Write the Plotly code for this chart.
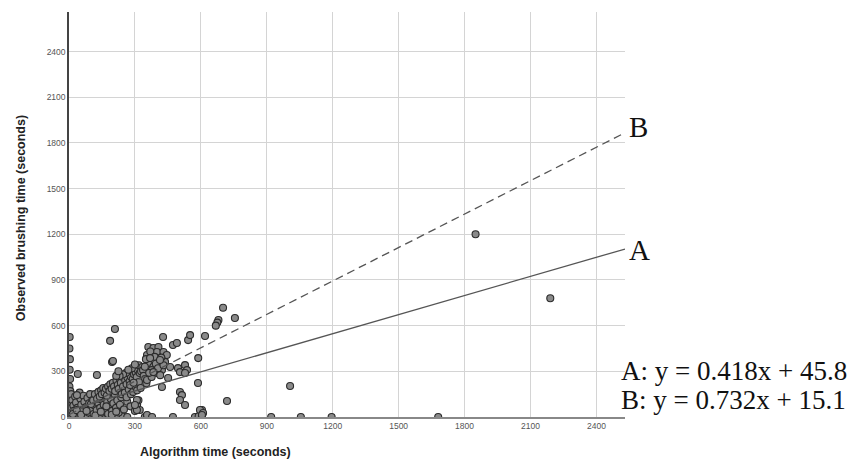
import plotly.graph_objects as go

# ---- data ----
algo_time = [
    3, 2, 4, 3, 5, 2, 6, 3, 4, 2, 5, 3,
    15, 30, 45, 60, 75, 90, 105, 125, 140, 160, 180, 200, 220, 245, 265, 345, 355, 365, 473, 573, 590, 605, 920, 1055, 1195, 1680,
    10, 15, 20, 22, 28, 32, 38, 42, 48, 52, 56, 62, 66, 70, 74, 78, 84, 88, 92, 96, 102, 106, 112, 116, 122, 126, 132, 136,
    142, 148, 152, 158, 164, 168, 174, 178, 184, 190, 196, 202, 208, 214, 220, 226, 232, 238,
    18, 35, 55, 80, 100, 120, 145, 170, 195, 215, 250, 265, 280, 300, 310, 316, 322, 40, 127, 196, 36,
    110, 118, 128, 134, 140, 146, 150, 156, 162, 168, 172, 178, 184, 188, 194, 200, 205, 210, 216, 222, 226, 232, 236, 242,
    246, 252, 256, 262, 266, 272, 276, 282, 286, 290, 296, 300, 304, 308, 312, 318, 322, 328, 334, 337, 340, 346, 352,
    240, 254, 262, 272, 282, 292, 302, 310, 318, 326, 278, 294, 260, 246, 230, 286, 300, 270, 215, 225,
    361, 384, 407, 355, 400, 430, 445, 361, 384, 414, 437, 376, 400, 423, 355, 376, 370, 390, 420, 350, 395, 405, 430, 365,
    345, 415, 369, 414, 384,
    428, 473, 491, 542, 551, 619, 588, 587, 496, 528, 537, 505, 528, 460, 451, 423, 505, 514, 505, 528, 605, 596, 610, 605,
    719, 1006, 701, 680, 675, 668, 755, 209, 187, 200, 309, 309, 300, 355, 378,
    1850, 2190,
]
observed_time = [
    525, 450, 380, 310, 250, 200, 170, 130, 90, 55, 25, 0,
    0, 3, 0, 5, 0, 2, 0, 4, 0, 2, 0, 5, 0, 3, 0, 0, 10, 0, 0, 0, 5, 0, 0, 0, 0, 0,
    150, 110, 75, 40, 135, 95, 60, 20, 160, 120, 80, 45, 140, 100, 15, 65, 125, 30, 90, 150, 55, 110, 20, 75, 130, 45, 95, 10,
    60, 115, 30, 80, 140, 50, 100, 20, 70, 120, 40, 90, 150, 60, 110, 30, 80, 130,
    20, 45, 15, 40, 85, 10, 35, 70, 15, 35, 50, 100, 70, 40, 80, 110, 46, 282, 276, 361, 144,
    110, 150, 120, 165, 135, 175, 150, 190, 160, 185, 140, 200, 170, 215, 185, 225, 200, 170, 240, 210, 185, 250, 225, 265,
    200, 275, 240, 215, 260, 285, 235, 265, 300, 250, 280, 320, 290, 262, 310, 340, 289, 300, 328, 308, 270, 250, 222,
    150, 160, 130, 180, 150, 165, 200, 175, 230, 190, 210, 225, 290, 280, 270, 320, 345, 310, 270, 300,
    460, 453, 460, 407, 427, 427, 407, 355, 330, 355, 362, 308, 289, 308, 243, 263, 430, 395, 390, 380, 350, 320, 340, 290,
    330, 275, 387, 374, 295,
    525, 473, 486, 505, 538, 532, 387, 223, 321, 341, 308, 295, 289, 328, 256, 197, 164, 144, 112, 79, 46, 46, 26, 13,
    105, 204, 718, 637, 620, 600, 650, 578, 500, 368, 112, 46, 79, 13, 0,
    1200, 780,
]

fit_a_slope, fit_a_intercept = 0.418, 45.8
fit_b_slope, fit_b_intercept = 0.732, 15.1
fit_x = [0, 2530]

tick_values = [0, 300, 600, 900, 1200, 1500, 1800, 2100, 2400]
tick_labels = ["0", "300", "600", "900", "1200", "1500", "1800", "2100", "2400"]

eq_a = "A: y = 0.418x + 45.8"
eq_b = "B: y = 0.732x + 15.1"

# ---- figure ----
fig = go.Figure()

fig.add_trace(go.Scatter(
    x=algo_time, y=observed_time, mode="markers",
    marker=dict(size=7, color="#8a8a8a", line=dict(color="#2b2b2b", width=1.1)),
    showlegend=False,
))

fig.add_trace(go.Scatter(
    x=fit_x, y=[fit_a_slope * v + fit_a_intercept for v in fit_x], mode="lines",
    line=dict(color="#555555", width=1.3), showlegend=False, cliponaxis=False,
))
fig.add_trace(go.Scatter(
    x=fit_x, y=[fit_b_slope * v + fit_b_intercept for v in fit_x], mode="lines",
    line=dict(color="#555555", width=1.3, dash="8px,5px"), showlegend=False, cliponaxis=False,
))

axis_common = dict(
    tickmode="array", tickvals=tick_values, ticktext=tick_labels,
    showgrid=True, gridcolor="#d4d4d4", gridwidth=1,
    zeroline=False, ticks="", showline=True,
    tickfont=dict(family="Liberation Sans, Arial", size=8.5, color="#555555"),
)

fig.update_xaxes(range=[0, 2530], linecolor="#888888", linewidth=2, **axis_common)
fig.update_yaxes(range=[0, 2660], linecolor="#444444", linewidth=1.5, **axis_common)

serif = "Liberation Serif, Times New Roman, serif"
annotations = [
    dict(text="B", x=1.004, y=0.716, xref="paper", yref="paper", xanchor="left", yanchor="middle",
         showarrow=False, font=dict(family=serif, size=29, color="#111111")),
    dict(text="A", x=1.004, y=0.412, xref="paper", yref="paper", xanchor="left", yanchor="middle",
         showarrow=False, font=dict(family=serif, size=29, color="#111111")),
    dict(text=eq_a, x=0.99, y=0.114, xref="paper", yref="paper", xanchor="left", yanchor="middle",
         showarrow=False, font=dict(family=serif, size=27, color="#111111")),
    dict(text=eq_b, x=0.99, y=0.042, xref="paper", yref="paper", xanchor="left", yanchor="middle",
         showarrow=False, font=dict(family=serif, size=27, color="#111111")),
    dict(text="<b>Algorithm time (seconds)</b>", x=0.263, y=-0.087, xref="paper", yref="paper",
         xanchor="center", yanchor="middle", showarrow=False,
         font=dict(family="Liberation Sans, Arial", size=12.5, color="#222222")),
    dict(text="<b>Observed brushing time (seconds)</b>", x=-0.087, y=0.49, xref="paper", yref="paper",
         xanchor="center", yanchor="middle", showarrow=False, textangle=-90,
         font=dict(family="Liberation Sans, Arial", size=12.5, color="#222222")),
]

# the page adds an 8px body margin, so the figure is sized/offset to compensate
fig.update_layout(
    width=851, height=460, autosize=False,
    margin=dict(l=61, r=234, t=4, b=51),
    paper_bgcolor="white", plot_bgcolor="white",
    annotations=annotations,
)

fig.write_html("out.html")
